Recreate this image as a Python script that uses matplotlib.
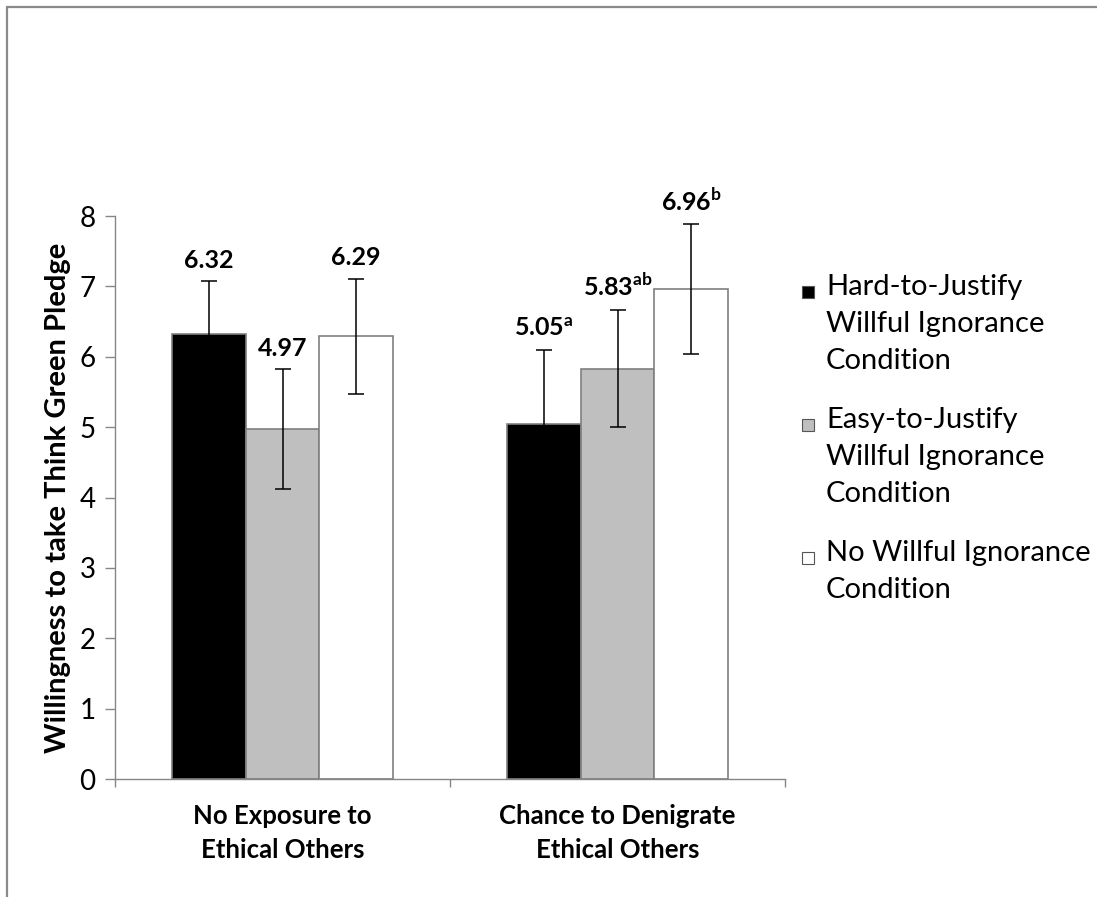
import matplotlib
matplotlib.use("Agg")
import matplotlib.pyplot as plt
from matplotlib.patches import Rectangle
import numpy as np

plt.rcParams['font.family'] = ['Lato', 'DejaVu Sans']
plt.rcParams['mathtext.fontset'] = 'custom'
plt.rcParams['mathtext.rm'] = 'Lato'
plt.rcParams['mathtext.bf'] = 'Lato:bold'

categories = ["No Exposure to\nEthical Others", "Chance to Denigrate\nEthical Others"]
conditions = ["Hard-to-Justify\nWillful Ignorance\nCondition",
              "Easy-to-Justify\nWillful Ignorance\nCondition",
              "No Willful Ignorance\nCondition"]
hard = [6.32, 5.05]
easy = [4.97, 5.83]
no_wi = [6.29, 6.96]
hard_err = [0.75, 1.05]
easy_err = [0.85, 0.83]
no_wi_err = [0.82, 0.92]
hard_sup = ["", "a"]
easy_sup = ["", "ab"]
no_wi_sup = ["", "b"]
yticks = [0, 1, 2, 3, 4, 5, 6, 7, 8]

colors = ["black", "#bfbfbf", "white"]
edge = "#7f7f7f"
axis_gray = "#868686"

W, H = 1097, 897
fig = plt.figure(figsize=(W / 100, H / 100), dpi=100)

# outer chart border (right and bottom sides fall outside the figure)
fig.patches.append(Rectangle((7 / W, -0.2), 1.5, 1 - 6.5 / H + 0.2,
                             transform=fig.transFigure, fill=False,
                             edgecolor="#8a8a8a", linewidth=1.6))

ax = fig.add_axes([115 / W, 1 - 779 / H, (785 - 115) / W, (779 - 216) / H])

x = np.arange(len(categories))
bw = 0.22
series = [(hard, hard_err, hard_sup), (easy, easy_err, easy_sup), (no_wi, no_wi_err, no_wi_sup)]
for i, (vals, errs, sups) in enumerate(series):
    pos = x + (i - 1) * bw
    ax.bar(pos, vals, width=bw, color=colors[i], edgecolor=edge, linewidth=1.2,
           yerr=errs, capsize=6,
           error_kw=dict(elinewidth=1.1, ecolor="black", capthick=1.1))
    for px, v, e, s in zip(pos, vals, errs, sups):
        if s:
            label = r"$\mathbf{%.2f}^{\mathbf{%s}}$" % (v, s)
        else:
            label = "%.2f" % v
        ax.annotate(label, (px, v + e), xytext=(0, 10), textcoords="offset points",
                    ha="center", va="baseline", fontsize=18, fontweight="bold")

ax.set_xlim(-0.5, 1.5)
ax.set_ylim(0, 8)
ax.set_yticks(yticks)
ax.set_yticklabels([str(t) for t in yticks], fontsize=20)
ax.tick_params(axis="y", length=7, width=1, color=axis_gray, pad=7)

ax.set_xticks([-0.5, 0.5, 1.5])
ax.set_xticklabels([])
ax.set_xticks(x, minor=True)
ax.set_xticklabels(categories, minor=True, fontsize=18.5, fontweight="bold",
                   linespacing=1.5)
ax.tick_params(axis="x", which="major", length=6, width=1, color=axis_gray)
ax.tick_params(axis="x", which="minor", length=0, pad=18)

for side in ["top", "right"]:
    ax.spines[side].set_visible(False)
for side in ["left", "bottom"]:
    ax.spines[side].set_color(axis_gray)
    ax.spines[side].set_linewidth(1)

ax.set_ylabel("Willingness to take Think Green Pledge", fontsize=21,
              fontweight="bold", labelpad=6)

# legend, square aligned with the first line of each entry
leg_tops = [274, 407, 540]
for name, c, top in zip(conditions, colors, leg_tops):
    fig.patches.append(Rectangle((802 / W, 1 - (top + 24) / H), 12 / W, 12 / H,
                                 transform=fig.transFigure, facecolor=c,
                                 edgecolor="#555555", linewidth=0.8))
    fig.text(826 / W, 1 - top / H, name, fontsize=21, va="top", ha="left",
             linespacing=1.52)

fig.savefig("out.png", dpi=100)
